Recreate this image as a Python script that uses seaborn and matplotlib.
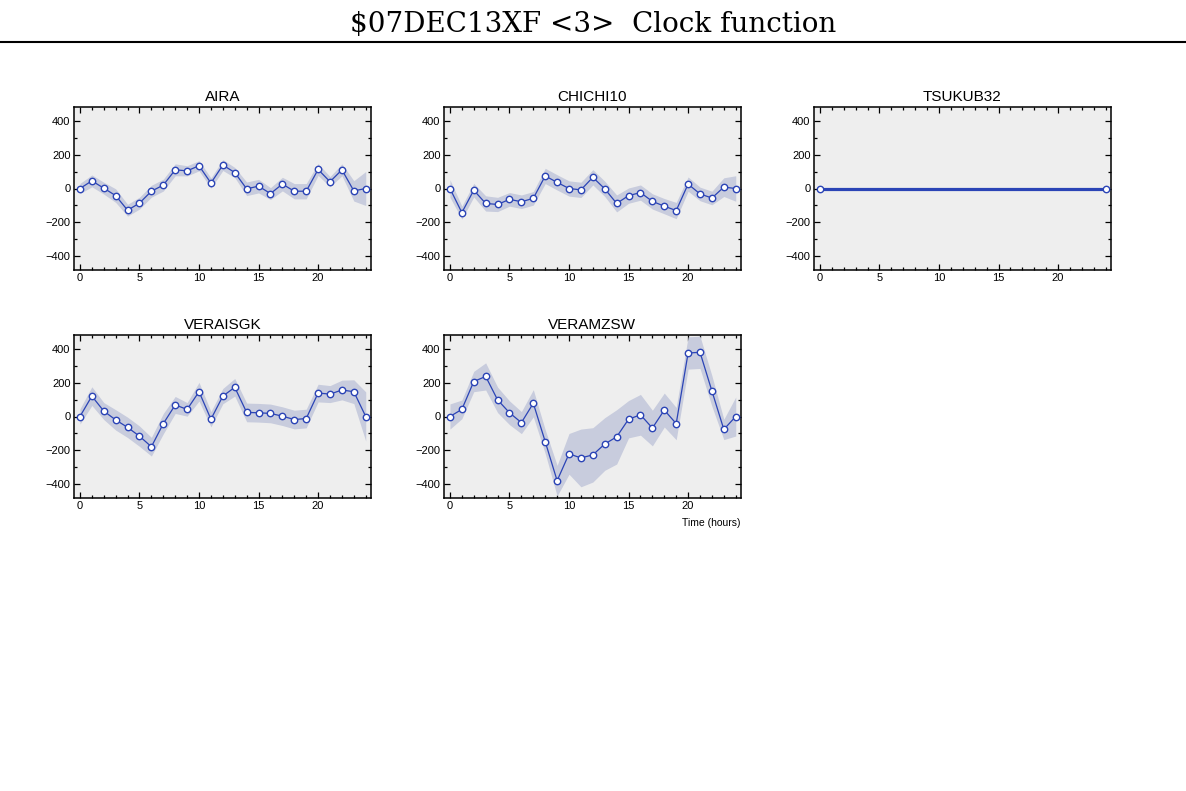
import numpy as np
import pandas as pd
import matplotlib
matplotlib.use("Agg")
import matplotlib.pyplot as plt
from matplotlib.lines import Line2D
from matplotlib.ticker import MultipleLocator
import seaborn as sns

# ---------------- data ----------------
hours = list(range(25))
stations = ["AIRA", "CHICHI10", "TSUKUB32", "VERAISGK", "VERAMZSW"]

aira = [0, 45, 2, -42, -128, -86, -16, 20, 110, 104, 134, 32, 138, 94,
        -2, 14, -30, 26, -16, -16, 112, 40, 110, -14, 0]
aira_err = [30, 35, 35, 40, 35, 35, 35, 35, 35, 30, 30, 30, 32, 30,
            40, 40, 35, 40, 45, 45, 35, 30, 35, 60, 100]

chichi = [0, -142, -10, -88, -94, -64, -78, -58, 74, 36, 0, -8, 66, -2,
          -88, -42, -24, -76, -104, -130, 26, -32, -56, 8, 0]
chichi_err = [52, 38, 40, 45, 42, 40, 40, 40, 45, 45, 45, 45, 45, 45,
              50, 45, 45, 45, 45, 48, 42, 40, 40, 55, 75]

tsukub_hours = [0, 24]
tsukub = [0, 0]

veraisgk = [0, 120, 32, -20, -64, -116, -178, -42, 68, 42, 146, -16, 120, 172,
            24, 22, 18, 2, -18, -12, 138, 132, 156, 146, 0]
veraisgk_err = [45, 55, 50, 60, 60, 60, 55, 60, 50, 40, 55, 45, 45, 52,
                55, 55, 55, 55, 55, 55, 52, 50, 58, 70, 145]

veramzsw = [0, 42, 206, 236, 98, 22, -36, 78, -148, -378, -220, -244, -226, -162,
            -120, -16, 10, -68, 38, -42, 374, 378, 150, -76, 0]
veramzsw_err = [74, 55, 60, 80, 75, 70, 65, 80, 70, 90, 120, 170, 160, 155,
                160, 110, 120, 105, 100, 95, 95, 95, 90, 60, 115]

series = {
    "AIRA": (hours, aira, aira_err),
    "CHICHI10": (hours, chichi, chichi_err),
    "TSUKUB32": (tsukub_hours, tsukub, None),
    "VERAISGK": (hours, veraisgk, veraisgk_err),
    "VERAMZSW": (hours, veramzsw, veramzsw_err),
}

# ---------------- style ----------------
sns.set_theme(style="ticks")
plt.rcParams["font.family"] = ["Liberation Sans", "DejaVu Sans"]
plt.rcParams["text.color"] = "black"
plt.rcParams["axes.labelcolor"] = "black"
plt.rcParams["xtick.color"] = "black"
plt.rcParams["ytick.color"] = "black"

LINE = "#2b44b6"
BAND = "#c8ccdd"
BG = "#eeeeee"

W, H = 1186, 791
fig = plt.figure(figsize=(W / 100, H / 100), dpi=100)
fig.patch.set_facecolor("white")

fig.text(0.5, 1 - 24 / H, "$07DEC13XF <3>  Clock function", ha="center", va="center",
         fontsize=20, family=["DejaVu Serif"], color="black")
fig.add_artist(Line2D([0, 1], [1 - 42 / H, 1 - 42 / H], color="black", lw=1.5,
                      transform=fig.transFigure))

cols = [74, 444, 814]
rows = [107, 335]
aw, ah = 296.5, 163

for i, name in enumerate(stations):
    r, c = divmod(i, 3)
    x0, y0 = cols[c], rows[r]
    ax = fig.add_axes([x0 / W, 1 - (y0 + ah) / H, aw / W, ah / H])
    ax.set_facecolor(BG)
    xs, ys, err = series[name]
    df = pd.DataFrame({"hour": xs, "offset": ys})
    if err is not None:
        lo = np.array(ys) - np.array(err)
        hi = np.array(ys) + np.array(err)
        ax.fill_between(xs, lo, hi, color=BAND, lw=0, zorder=1)
        lw = 0.9
    else:
        lw = 2.3
    sns.lineplot(data=df, x="hour", y="offset", ax=ax, color=LINE, lw=lw,
                 marker="o", markersize=4.6, markerfacecolor="white",
                 markeredgecolor=LINE, markeredgewidth=1.0, zorder=3)
    ax.set_xlim(-0.5, 24.4)
    ax.set_ylim(-480, 480)
    ax.xaxis.set_major_locator(MultipleLocator(5))
    ax.xaxis.set_minor_locator(MultipleLocator(1))
    ax.yaxis.set_major_locator(MultipleLocator(200))
    ax.yaxis.set_minor_locator(MultipleLocator(100))
    ax.set_xticks([0, 5, 10, 15, 20])
    ax.tick_params(which="both", direction="in", top=True, right=True,
                   colors="black", width=0.9, labelsize=8, pad=2.5)
    ax.tick_params(which="major", length=4)
    ax.tick_params(which="minor", length=2.5)
    ax.set_yticks([-400, -200, 0, 200, 400])
    ax.set_yticklabels(["\u2212400", "\u2212200", "0", "200", "400"])
    for s in ax.spines.values():
        s.set_color("black")
        s.set_linewidth(1.1)
    ax.set_xlabel("")
    ax.set_ylabel("")
    ax.set_title(name, fontsize=11, pad=4, color="black")
    if name == "VERAMZSW":
        ax.text(1.0, -0.12, "Time (hours)", transform=ax.transAxes, ha="right",
                va="top", fontsize=7.5, color="black")

fig.savefig("out.png", dpi=100)
